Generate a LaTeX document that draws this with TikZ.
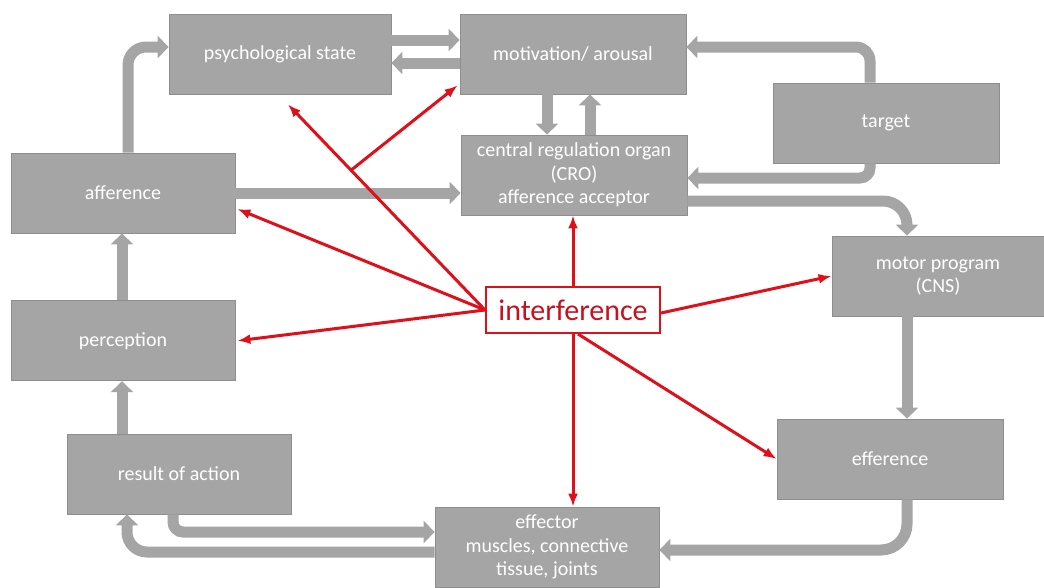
\documentclass[tikz,border=0pt]{standalone}
\usepackage{fontspec}
\setmainfont{Carlito}
\usetikzlibrary{arrows.meta, positioning}
\definecolor{boxgray}{HTML}{A5A5A5}
\definecolor{edgegray}{HTML}{8E8E8E}
\definecolor{intred}{HTML}{E0101A}
\definecolor{textred}{HTML}{C8101E}
\tikzset{
    box/.style={rectangle, draw=edgegray, line width=0.8pt, fill=boxgray, text=white, align=center,
                minimum width=224pt, minimum height=80pt, inner sep=2pt, font=\fontsize{20}{23.5}\selectfont},
    intbox/.style={rectangle, draw=intred, line width=2pt, fill=white, text=textred,
                minimum width=174pt, minimum height=46pt, inner sep=0pt, font=\fontsize{30}{34}\selectfont},
    garr/.style={-{Triangle[width=22pt, length=11pt]}, line width=11pt, draw=boxgray, rounded corners=14pt},
    rarr/.style={-{Latex[length=13pt, width=10pt]}, line width=3pt, draw=intred},
}

\begin{document}
\begin{tikzpicture}[x=1pt, y=-1pt]

\path[use as bounding box, fill=white] (0,0) rectangle (1044,587);

% ── Upper row ──
\node[box, minimum width=222pt] (psych) at (280, 54) {psychological state};
\node[box, minimum width=226pt] (motiv) at (573, 54) {motivation/ arousal};
\node[box, minimum width=226pt] (cro) at (574, 175) {central regulation organ\\(CRO)\\afference acceptor};
\node[box, minimum width=226pt] (target) at (886, 123) {target};

% ── Left column ──
\node[box] (aff) at (123, 193) {afference};
\node[box, below=67pt of aff] (perc) {perception};
\node[box] (result) at (179, 474) {result of action};

% ── Right column ──
\node[box, minimum width=212pt] (motor) at (938, 276) {motor program\\(CNS)};
\node[box, minimum width=226pt] (eff) at (890, 459) {efference};
\node[box] (effector) at (547, 547) {effector\\muscles, connective\\tissue, joints};

% ── Interference ──
\node[intbox] (intf) at (573, 310) {interference};

% ── Feedback loop ──
\draw[garr] ([yshift=14pt]psych.east) -- ([yshift=14pt]psych.east -| motiv.west);
\draw[garr] ([yshift=-9pt]motiv.west) -- ([yshift=-9pt]motiv.west -| psych.east);
\draw[garr] ([xshift=-26pt]motiv.south) -- ([xshift=-26pt]motiv.south |- cro.north);
\draw[garr] ([xshift=16pt]cro.north) -- ([xshift=16pt]cro.north |- motiv.south);
\draw[garr] (aff.east) -- (aff.east -| cro.west);

\draw[garr] ([xshift=-16pt]target.north) |- ([yshift=7pt]motiv.east);
\draw[garr, rounded corners=10pt] ([xshift=-16pt]target.south) |- ([yshift=-3pt]cro.east);
\draw[garr, rounded corners=24pt] ([yshift=-26pt]cro.east) -| ([xshift=-31pt]motor.north);
\draw[garr] ([xshift=-31pt]motor.south) -- ([xshift=-31pt]motor.south |- eff.north);
\draw[garr, rounded corners=26pt] ([xshift=17pt]eff.south) |- ([yshift=-3pt]effector.east);

\draw[garr, rounded corners=10pt] ([xshift=-6pt]result.south) |- ([yshift=15pt]effector.west);
\draw[garr, rounded corners=20pt] ([yshift=-5pt]effector.west) -| ([xshift=-52pt]result.south);
\draw[garr] ([xshift=-57pt]result.north) -- ([xshift=-57pt]result.north |- perc.south);
\draw[garr] ([xshift=-1pt]perc.north) -- ([xshift=-1pt]aff.south);
\draw[garr, rounded corners=18pt] ([xshift=5pt]aff.north) |- ([yshift=7pt]psych.west);

% ── Interference arrows ──
\coordinate (psytip) at ([shift={(8,10)}]psych.south);
\coordinate (mottip) at ([shift={(-2,-9)}]motiv.south west);
\coordinate (afftip) at ([shift={(2,16)}]aff.east);
\path (intf.west) -- coordinate[pos=0.68] (fork) (psytip);

\draw[rarr] (intf.west) -- (psytip);
\draw[rarr] (fork) -- (mottip);
\draw[rarr] (intf.west) -- (afftip);
\draw[rarr] (intf.west) -- ([xshift=2pt]perc.east);
\draw[rarr] (intf.north) -- (intf.north |- cro.south);
\draw[rarr] ([yshift=-3pt]intf.east) -- (motor.west);
\draw[rarr] ([xshift=5pt]intf.south) -- (eff.west);
\draw[rarr] (intf.south) -- (intf.south |- effector.north);

\end{tikzpicture}
\end{document}
